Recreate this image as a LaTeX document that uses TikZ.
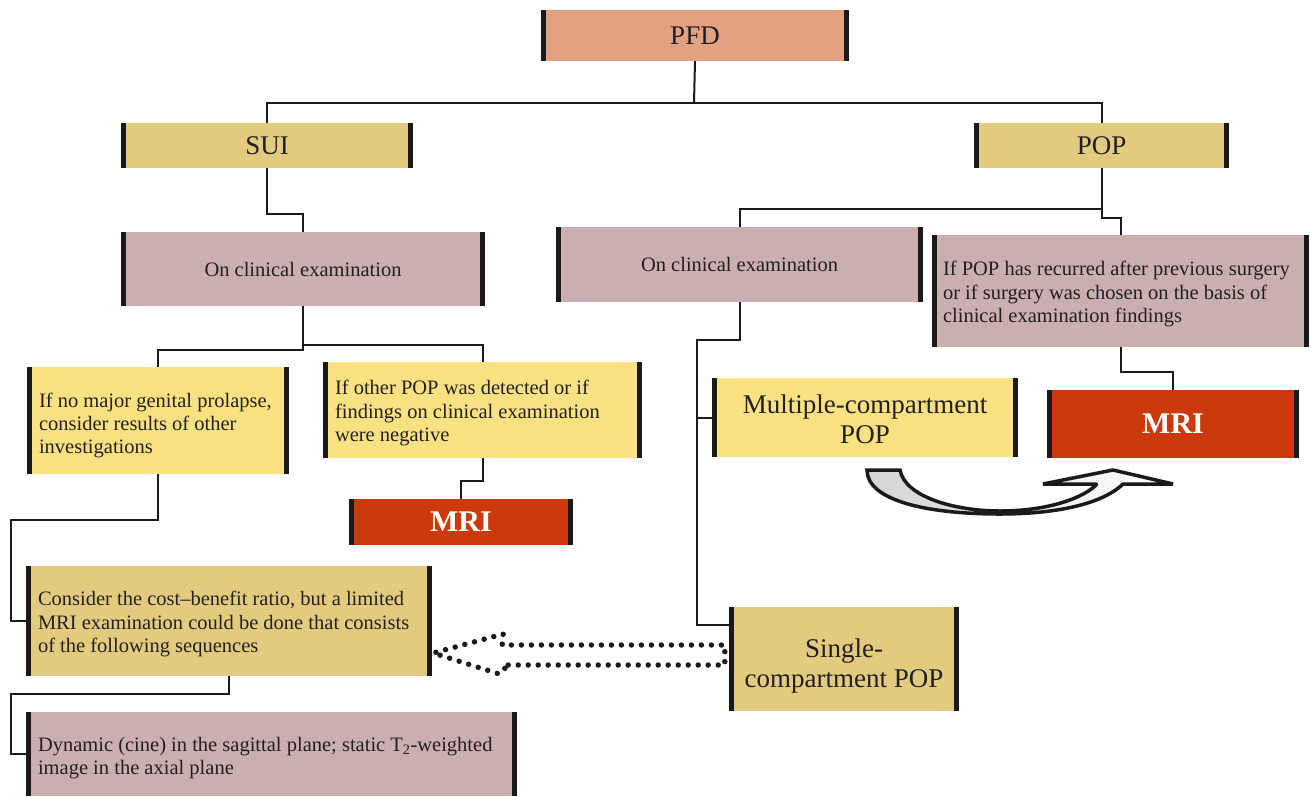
\documentclass[tikz,border=0pt]{standalone}
\usepackage{fontspec}
\setmainfont{Liberation Serif}
\usetikzlibrary{calc}
\definecolor{cSalmon}{HTML}{E2A282}
\definecolor{cKhaki}{HTML}{E2CB7E}
\definecolor{cMauve}{HTML}{CBAEAF}
\definecolor{cYellow}{HTML}{FAE282}
\definecolor{cRed}{HTML}{CC3A0C}
\definecolor{cGrey}{HTML}{D2D5D4}
\definecolor{cInk}{HTML}{1A1A1A}
\definecolor{cText}{HTML}{231F20}
\begin{document}
\begin{tikzpicture}[x=1pt,y=-1pt,
  box/.style={draw=none, inner sep=0pt, text=cText, path picture={
     \fill[cInk] (path picture bounding box.north west) rectangle ([xshift=5pt]path picture bounding box.south west);
     \fill[cInk] (path picture bounding box.north east) rectangle ([xshift=-5pt]path picture bounding box.south east);}},
  bigtxt/.style={font=\fontsize{27}{30}\selectfont},
  smalltxt/.style={font=\fontsize{20.5}{23.2}\selectfont},
  mritxt/.style={font=\fontsize{30}{32}\selectfont\bfseries, text=white},
  txt/.style={smalltxt, inner sep=0pt, align=left, text=cText, anchor=west},
  conn/.style={draw=cInk, line width=2pt},
  dotarrow/.style={draw=cInk, line width=5.5pt, dash pattern=on 0pt off 10pt, line cap=round},
  bigarrow/.style={draw=cInk, line width=3.5pt, line join=miter, miter limit=2, left color=cGrey, right color=white}
]
\useasboundingbox (0,0) rectangle (1311,796);

% boxes
\node[box, fill=cSalmon, minimum width=308, minimum height=51, bigtxt] (pfd) at (695,35.5) {PFD};
\node[box, fill=cKhaki, minimum width=292, minimum height=45, bigtxt] (sui) at (267,145.5) {SUI};
\node[box, fill=cKhaki, minimum width=255, minimum height=45, bigtxt] (pop) at (1101.5,145.5) {POP};
\node[box, fill=cMauve, minimum width=364, minimum height=74, smalltxt] (clin1) at (303,269) {On clinical examination};
\node[box, fill=cMauve, minimum width=367, minimum height=75, smalltxt] (clin2) at (739.5,264.5) {On clinical examination};
\node[box, fill=cMauve, minimum width=377, minimum height=112] (recur) at (1120.5,291) {};
\node[txt] (recurT) at ([xshift=11pt,yshift=-3pt]recur.west) {If POP has recurred after previous surgery\\or if surgery was chosen on the basis of\\clinical examination findings};
\node[box, fill=cYellow, minimum width=262, minimum height=107] (noprol) at (158,420.5) {};
\node[txt] (noprolT) at ([xshift=12pt,yshift=-5pt]noprol.west) {If no major genital prolapse,\\consider results of other\\investigations};
\node[box, fill=cYellow, minimum width=319, minimum height=96] (other) at (482.5,410) {};
\node[txt] (otherT) at ([xshift=12pt,yshift=-3pt]other.west) {If other POP was detected or if\\findings on clinical examination\\were negative};
\node[box, fill=cRed, minimum width=224, minimum height=46, mritxt] (mri1) at (461,522) {MRI};
\node[box, fill=cYellow, minimum width=306, minimum height=79] (multi) at (865,417.5) {};
\node[bigtxt, inner sep=0pt, align=center, text=cText] (multiT) at ([yshift=-2pt]multi.center) {Multiple-compartment\\POP};
\node[box, fill=cRed, minimum width=252, minimum height=68, mritxt] (mri2) at (1173,424) {MRI};
\node[box, fill=cKhaki, minimum width=406, minimum height=110] (cost) at (229,621) {};
\node[txt] (costT) at ([xshift=12pt,yshift=-3pt]cost.west) {Consider the cost--benefit ratio, but a limited\\MRI examination could be done that consists\\of the following sequences};
\node[box, fill=cKhaki, minimum width=230, minimum height=104] (single) at (844,659) {};
\node[bigtxt, inner sep=0pt, align=center, text=cText] (singleT) at ([yshift=-7pt]single.center) {Single-\\compartment POP};
\node[box, fill=cMauve, minimum width=491, minimum height=84] (dyn) at (271.5,754) {};
\node[txt] (dynT) at ([xshift=12pt,yshift=-4pt]dyn.west) {Dynamic (cine) in the sagittal plane; static T\textsubscript{2}-weighted\\image in the axial plane};

% connectors
\coordinate (j1) at (694,103);
\draw[conn] (sui.north) |- (j1) -| (pop.north);
\draw[conn] (pfd.south) -- (j1);
\draw[conn] (sui.south) -- ++(0,46) -| (clin1.north);
\draw[conn] (clin1.south) -- ++(0,44) -| (noprol.north);
\draw[conn] ([yshift=-39pt]clin1.south) -| (other.north);
\draw[conn] (other.south) -- ++(0,23) -| (mri1.north);
\draw[conn] (noprol.south) -- ++(0,46) -| ([xshift=-15pt]cost.west) -- (cost.west);
\draw[conn] (cost.south) -- ++(0,18) -| ([xshift=-15pt]dyn.west) -- (dyn.west);
\coordinate (j2) at (1101.5,209);
\draw[conn] (pop.south) -- (j2) -| (clin2.north);
\draw[conn] (j2) -- ++(0,9) -| (recur.north);
\draw[conn] (recur.south) -- ++(0,25) -| (mri2.north);
\draw[conn] (clin2.south) -- ++(0,38) -| ([xshift=-15pt]multi.west) -- (multi.west);
\draw[conn] ([xshift=-15pt]multi.west) |- ([yshift=-18pt]single.north west);

% dotted hollow arrow
\draw[dotarrow] ($(cost.east)+(76,44)$) -- ($(single.west)+(-4,6)$) -- ($(single.west)+(-4,-14)$)
  -- ($(cost.east)+(70,24)$) -- ($(cost.east)+(71,13)$) -- ($(cost.east)+(1,32)$)
  -- ($(cost.east)+(67,53)$) -- cycle;

% curved arrow
\draw[bigarrow] (867,470) -- (900,470)
  .. controls (905,497) and (955,511) .. (1000,511)
  .. controls (1050,511) and (1085,497) .. (1097,484)
  -- (1043,484) -- (1113,470) -- (1173,484) -- (1123,484)
  .. controls (1100,506) and (1050,514) .. (1000,514)
  .. controls (925,514) and (867,500) .. (867,470) -- cycle;
\end{tikzpicture}
\end{document}
